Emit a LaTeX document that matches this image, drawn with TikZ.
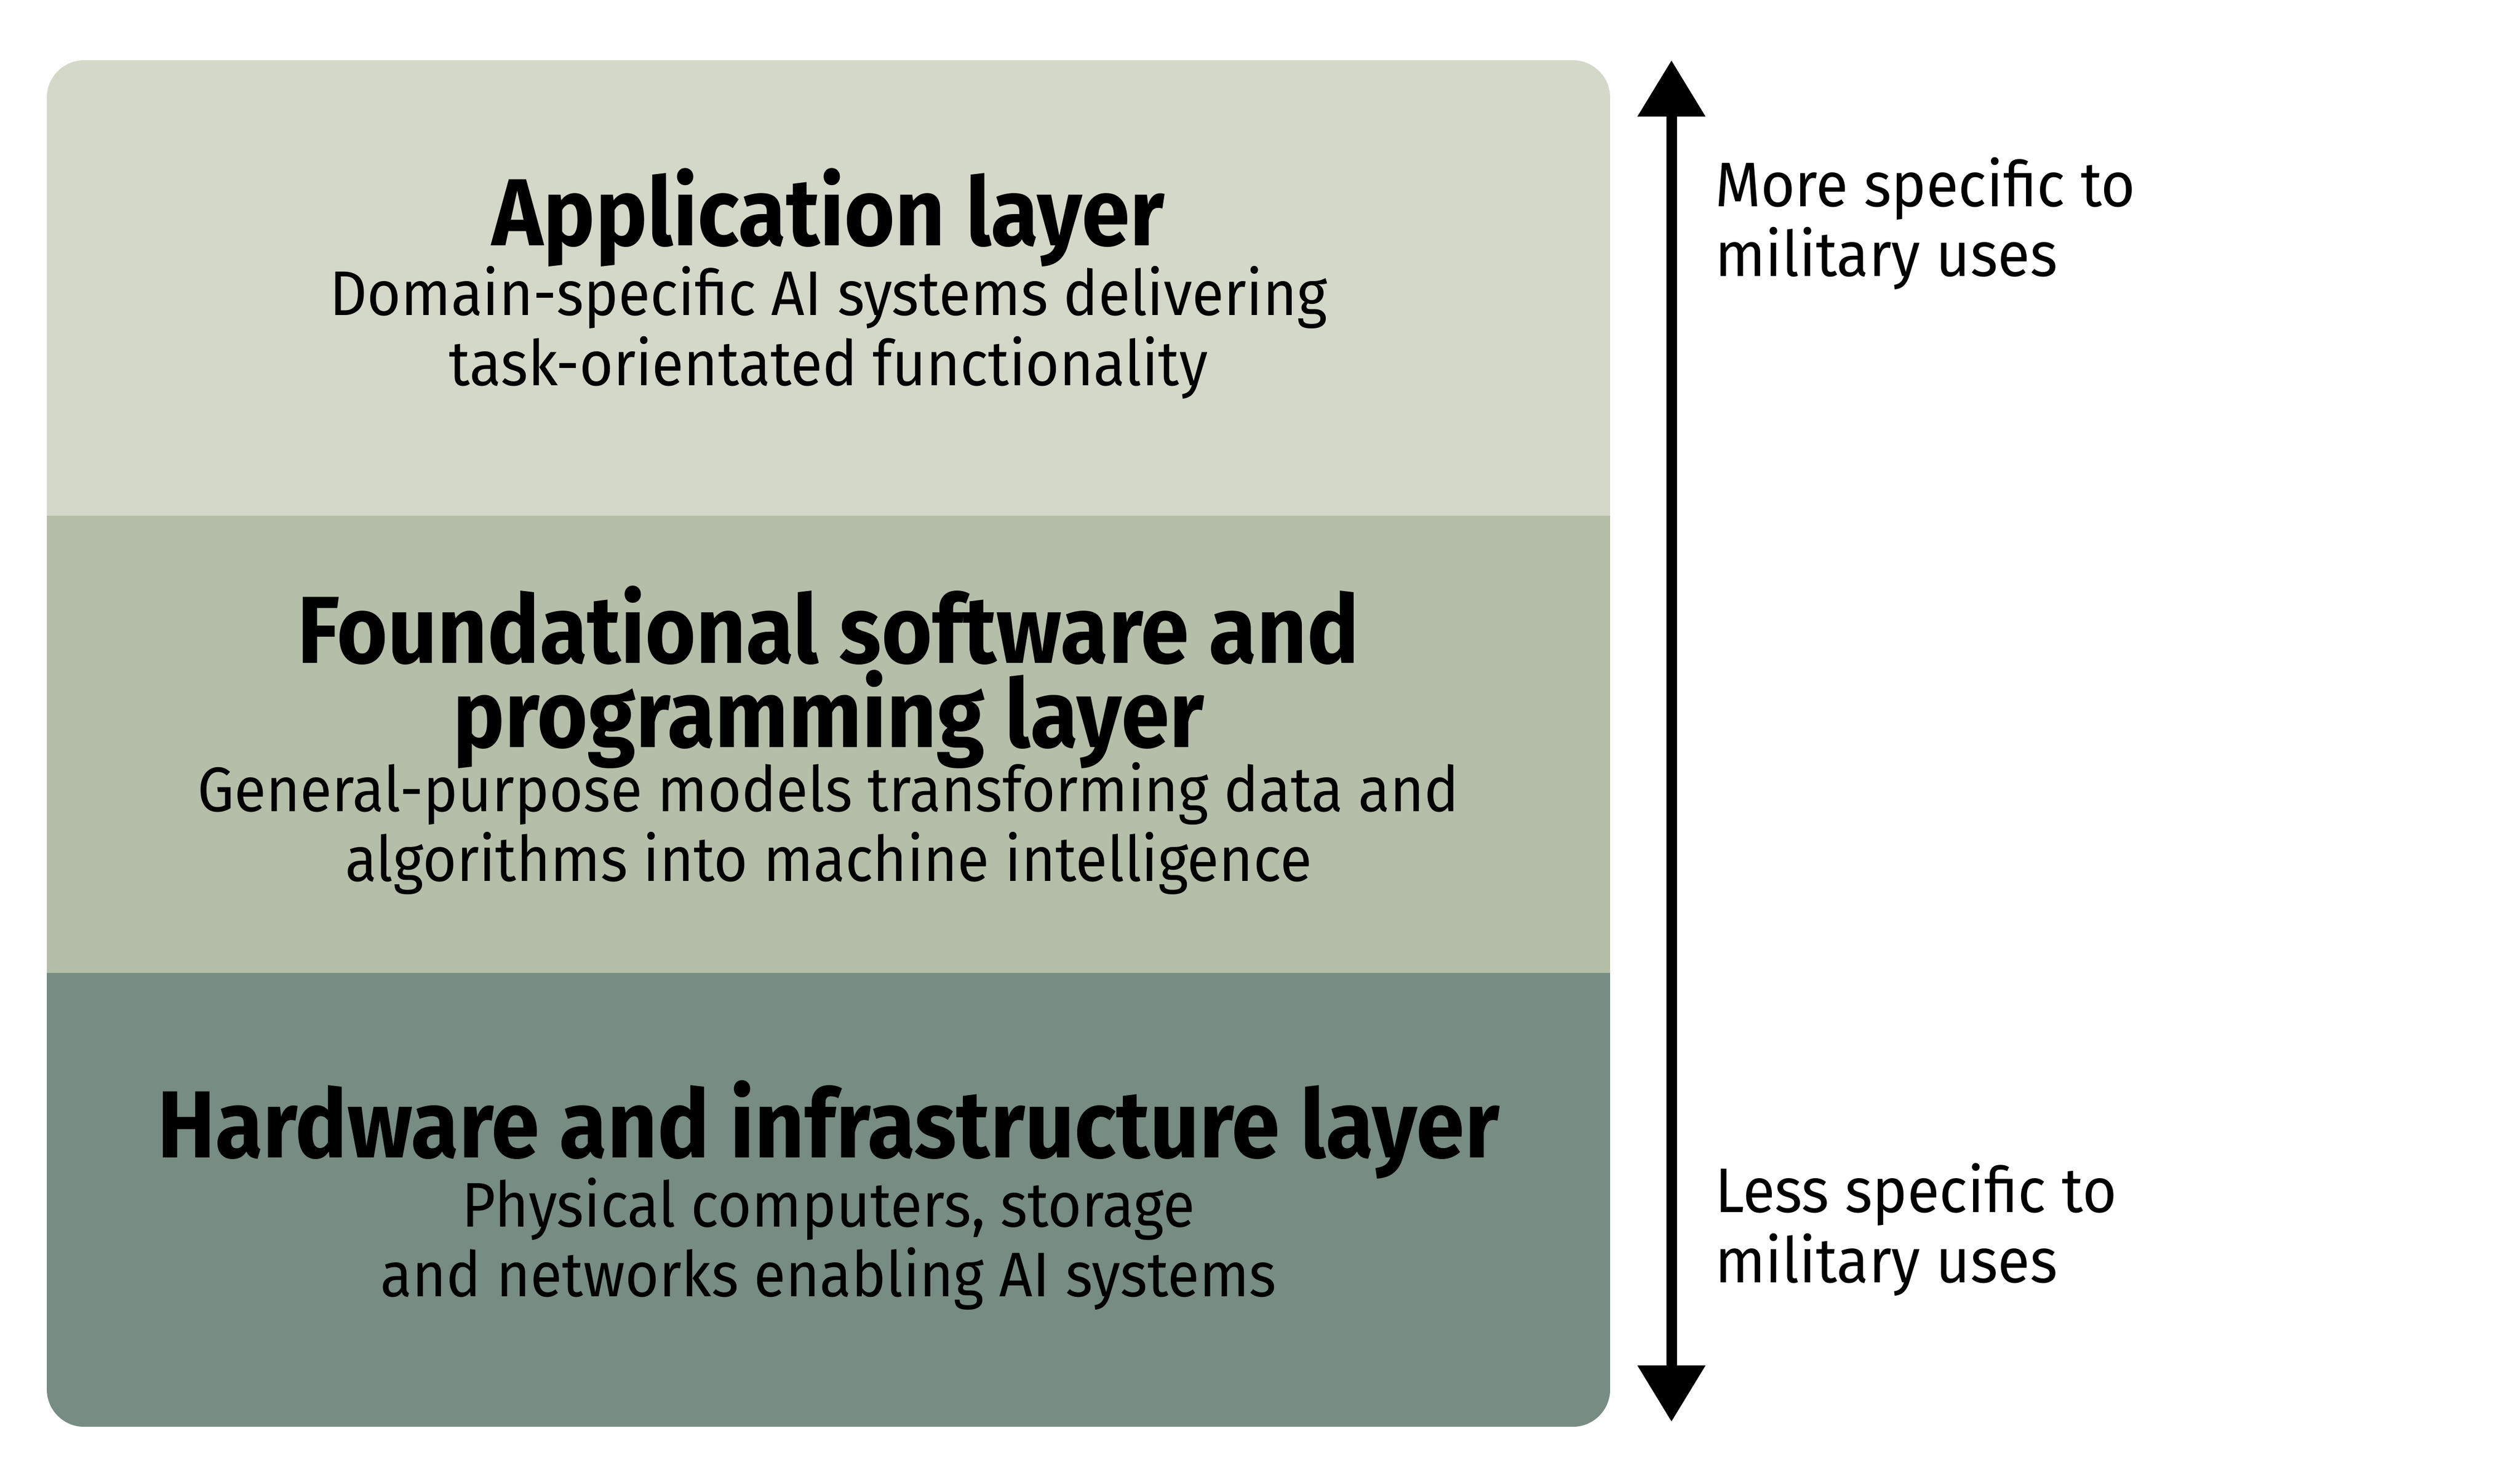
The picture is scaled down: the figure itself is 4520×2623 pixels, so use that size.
\documentclass[tikz,border=0pt]{standalone}
\usepackage{fontspec}
\setmainfont{Fira Sans}
\newfontfamily\tfont{Fira Sans}[FakeStretch=0.912]
\newfontfamily\sfont{Fira Sans}[FakeStretch=0.925]
\newfontfamily\rfont{Fira Sans}[FakeStretch=0.935]
\usetikzlibrary{arrows.meta}
\definecolor{layA}{RGB}{212,216,201}
\definecolor{layB}{RGB}{181,190,169}
\definecolor{layC}{RGB}{119,140,130}
\tikzset{
  ttl/.style={anchor=base, inner sep=0pt, font=\tfont\bfseries\fontsize{17.1pt}{13.8pt}\selectfont},
  sub/.style={anchor=base, inner sep=0pt, font=\sfont\fontsize{11.3pt}{12.6pt}\selectfont},
  side/.style={anchor=base west, inner sep=0pt, font=\rfont\fontsize{11.3pt}{12.6pt}\selectfont},
  axis/.style={line width=1.9pt, {Triangle[length=10.1pt,width=11.7pt]}-{Triangle[length=10.1pt,width=11.7pt]}}
}
\begin{document}
\begin{tikzpicture}[x=0.1pt,y=-0.1pt]
\useasboundingbox (0,0) rectangle (4520,2623);
\begin{scope}
  \clip[rounded corners=6.7pt] (84,108) rectangle (2888,2559);
  \fill[layA] (84,108) rectangle (2888,925);
  \fill[layB] (84,925) rectangle (2888,1745);
  \fill[layC] (84,1745) rectangle (2888,2559);
\end{scope}
% Application layer
\node[ttl] (appt) at (1486,440) {Application layer};
\node[sub] (apps1) at (1486,565) {Domain-specific AI systems delivering};
\node[sub] (apps2) at (1486,691) {task-orientated functionality};
% Foundational layer
\node[ttl] (fndt) at (1486,1189) {\parbox[t]{250pt}{\centering Foundational software and\\programming layer}};
\node[sub] (fnds1) at (1486,1455) {General-purpose models transforming data and};
\node[sub] (fnds2) at (1486,1580) {algorithms into machine intelligence};
% Hardware layer
\node[ttl] (hwt) at (1486,2076) {Hardware and infrastructure layer};
\node[sub] (hws1) at (1486,2200) {Physical computers, storage};
\node[sub] (hws2) at (1486,2325) {and networks enabling AI systems};
% Axis
\coordinate (atop) at (2998,108);
\coordinate (abot) at (2998,2550);
\draw[axis] (abot) -- (atop);
\node[side] (more1) at (3074,370) {More specific to};
\node[side] (more2) at (3074,495) {military uses};
\node[side] (less1) at (3074,2174) {Less specific to};
\node[side] (less2) at (3074,2300) {military uses};
\end{tikzpicture}
\end{document}
